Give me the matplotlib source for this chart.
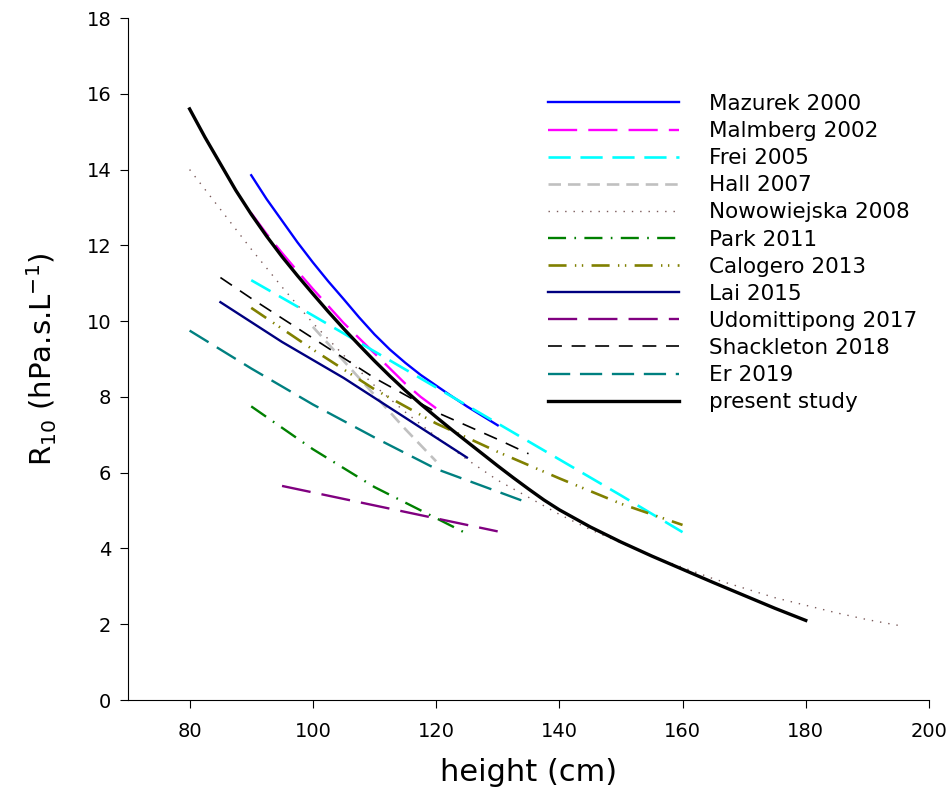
import matplotlib
matplotlib.use('Agg')
import matplotlib.pyplot as plt

plt.rcParams['font.family'] = ['DejaVu Sans']
plt.rcParams['lines.scale_dashes'] = False

# values
mazurek_x = [90, 92.5, 95, 97.5, 100, 102.5, 105, 107.5, 110, 112.5, 115,
             117.5, 120, 122.5, 125, 127.5, 130]
mazurek_y = [13.85, 13.22, 12.65, 12.08, 11.55, 11.05, 10.58, 10.1, 9.65,
             9.25, 8.9, 8.58, 8.3, 8.02, 7.75, 7.5, 7.25]

malmberg_x = [90, 92.5, 95, 97.5, 100, 102.5, 105, 107.5, 110, 112.5, 115, 117.5, 120]
malmberg_y = [12.85, 12.3, 11.8, 11.32, 10.85, 10.4, 9.95, 9.55, 9.15, 8.75,
              8.35, 8.0, 7.7]

frei_x = [90, 100, 110, 120, 130, 140, 150, 160]
frei_y = [11.08, 10.15, 9.2, 8.25, 7.3, 6.35, 5.4, 4.43]

hall_x = [100, 105, 110, 115, 120]
hall_y = [9.85, 8.95, 8.05, 7.15, 6.3]

nowo_x = [80, 85, 90, 95, 100, 105, 110, 115, 120, 125, 130, 135, 140,
          145, 150, 155, 160, 165, 170, 175, 180, 185, 190, 195]
nowo_y = [14.0, 12.95, 11.9, 10.9, 9.95, 9.1, 8.3, 7.6, 6.95, 6.35, 5.8,
          5.35, 4.9, 4.5, 4.15, 3.8, 3.5, 3.2, 2.95, 2.7, 2.5, 2.3, 2.12, 1.97]

park_x = [90, 100, 110, 120, 124.5]
park_y = [7.75, 6.62, 5.62, 4.8, 4.43]

calogero_x = [90, 100, 110, 120, 130, 140, 150, 160]
calogero_y = [10.35, 9.25, 8.2, 7.3, 6.55, 5.85, 5.18, 4.62]

lai_x = [85, 95, 105, 115, 125]
lai_y = [10.5, 9.45, 8.5, 7.45, 6.4]

udom_x = [95, 112.5, 130]
udom_y = [5.65, 5.05, 4.45]

shack_x = [85, 90, 100, 110, 120, 130, 135]
shack_y = [11.15, 10.6, 9.55, 8.5, 7.6, 6.88, 6.5]

er_x = [80, 90, 100, 110, 120, 130, 135]
er_y = [9.75, 8.75, 7.8, 6.93, 6.1, 5.5, 5.2]

present_x = [80, 82.5, 85, 87.5, 90, 92.5, 95, 97.5, 100, 102.5, 105, 107.5,
             110, 112.5, 115, 117.5, 120, 122.5, 125, 127.5, 130, 132.5, 135,
             137.5, 140, 145, 150, 155, 160, 165, 170, 175, 180]
present_y = [15.6, 14.85, 14.15, 13.45, 12.82, 12.24, 11.7, 11.2, 10.72, 10.25,
             9.8, 9.37, 8.95, 8.55, 8.17, 7.81, 7.47, 7.14, 6.82, 6.5, 6.18,
             5.87, 5.57, 5.28, 5.02, 4.57, 4.17, 3.8, 3.45, 3.1, 2.76, 2.42, 2.1]

x_ticks = [80, 100, 120, 140, 160, 180, 200]
y_ticks = [0, 2, 4, 6, 8, 10, 12, 14, 16, 18]

fig = plt.figure(figsize=(9.53, 8.08), dpi=100)
ax = fig.add_axes([128 / 953, 1 - 700 / 808, (929 - 128) / 953, (700 - 18) / 808])

ax.plot(mazurek_x, mazurek_y, color='#0000ff', lw=1.7, label='Mazurek 2000')
ax.plot(malmberg_x, malmberg_y, color='#ff00ff', lw=1.7, dashes=(21, 8), label='Malmberg 2002')
ax.plot(frei_x, frei_y, color='#00ffff', lw=1.9, dashes=(16, 7), label='Frei 2005')
ax.plot(hall_x, hall_y, color='#c0c0c0', lw=1.9, dashes=(9, 5), label='Hall 2007')
ax.plot(nowo_x, nowo_y, color='#7a5a5a', lw=1.0, dashes=(1, 5), label='Nowowiejska 2008')
ax.plot(park_x, park_y, color='#008000', lw=1.7, dashes=(13, 6, 1.2, 6), label='Park 2011')
ax.plot(calogero_x, calogero_y, color='#808000', lw=1.9, dashes=(13, 6, 1, 4, 1, 6), label='Calogero 2013')
ax.plot(lai_x, lai_y, color='#000080', lw=1.7, label='Lai 2015')
ax.plot(udom_x, udom_y, color='#800080', lw=1.7, dashes=(21, 8), label='Udomittipong 2017')
ax.plot(shack_x, shack_y, color='black', lw=1.2, dashes=(10, 7), label='Shackleton 2018')
ax.plot(er_x, er_y, color='#008080', lw=1.7, dashes=(16, 7), label='Er 2019')
ax.plot(present_x, present_y, color='black', lw=2.4, label='present study')

ax.set_xlim(70, 200)
ax.set_ylim(0, 18)
ax.set_xticks(x_ticks)
ax.set_yticks(y_ticks)
ax.spines['top'].set_visible(False)
ax.spines['right'].set_visible(False)
ax.tick_params(direction='out', length=6, width=0.8, labelsize=14, pad=6)
ax.tick_params(axis='x', pad=10)

ax.set_xlabel('height (cm)', fontsize=22, labelpad=12)
ax.set_ylabel('R$_{10}$ (hPa.s.L$^{-1}$)', fontsize=21, labelpad=20)

ax.legend(loc='upper left', bbox_to_anchor=(548 / 953, 1 - 94 / 808),
          bbox_transform=fig.transFigure, frameon=False, fontsize=15.5,
          handlelength=6.1, handletextpad=1.4, labelspacing=0.33,
          borderpad=0, borderaxespad=0)

fig.savefig('out.png', dpi=100)
